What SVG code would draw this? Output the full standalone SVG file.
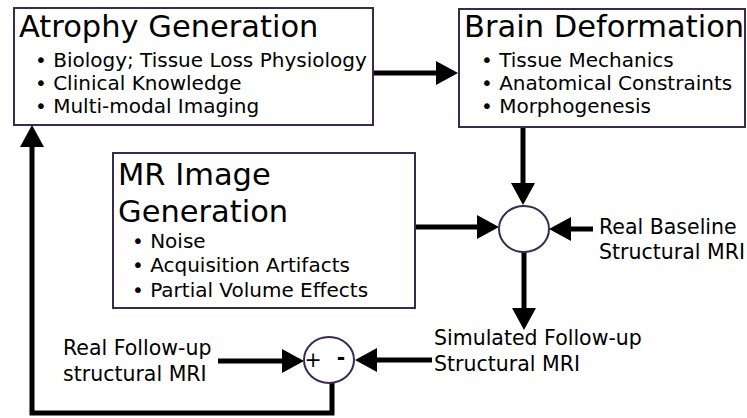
<svg xmlns="http://www.w3.org/2000/svg" width="747" height="418" viewBox="0 0 747 418">
<style>
.box{fill:#fff;stroke:#3b2a4c;stroke-width:2}
.t{font-family:"DejaVu Sans",sans-serif;fill:#000}
.h{font-size:30.5px}
.b{font-size:20px}
.l{font-size:20.5px}
.c{stroke:#000;stroke-width:5;fill:none;marker-end:url(#ah)}
</style>
<defs>
<marker id="ah" markerUnits="userSpaceOnUse" viewBox="0 0 22 24" refX="12" refY="12" markerWidth="22" markerHeight="24" orient="auto">
<path d="M0,0 L22,12 L0,24 z" fill="#000"/>
</marker>
</defs>
<g id="connectors">
<line class="c" x1="373" y1="73" x2="448" y2="73"/>
<line class="c" x1="523" y1="127" x2="523" y2="195"/>
<line class="c" x1="415" y1="227" x2="489" y2="227"/>
<line class="c" x1="593" y1="229" x2="559" y2="229"/>
<line class="c" x1="524" y1="252" x2="524" y2="320"/>
<line class="c" x1="218" y1="361" x2="294" y2="361"/>
<line class="c" x1="432" y1="360" x2="365" y2="360"/>
<path class="c" d="M332,383 L332,413 L32,413 L32,135"/>
</g>
<g id="atrophy">
<rect class="box" x="14" y="8" width="359" height="117"/>
<text class="t h" x="19" y="37">Atrophy Generation</text>
<text class="t b" x="35" y="67">• Biology; Tissue Loss Physiology</text>
<text class="t b" x="35" y="90">• Clinical Knowledge</text>
<text class="t b" x="35" y="113">• Multi-modal Imaging</text>
</g>
<g id="brain">
<rect class="box" x="459" y="9" width="286" height="118"/>
<text class="t h" x="464" y="37">Brain Deformation</text>
<text class="t b" x="481" y="67">• Tissue Mechanics</text>
<text class="t b" x="481" y="90">• Anatomical Constraints</text>
<text class="t b" x="481" y="113">• Morphogenesis</text>
</g>
<g id="mr">
<rect class="box" x="113" y="153" width="302" height="155"/>
<text class="t h" x="118" y="185">MR Image</text>
<text class="t h" x="118" y="222">Generation</text>
<text class="t b" x="132" y="248">• Noise</text>
<text class="t b" x="132" y="272">• Acquisition Artifacts</text>
<text class="t b" x="132" y="297">• Partial Volume Effects</text>
</g>
<g id="sum">
<ellipse class="box" cx="524" cy="229" rx="25" ry="23"/>
</g>
<g id="diff">
<ellipse class="box" cx="329" cy="360" rx="25" ry="23"/>
<text class="t l" x="313" y="367" text-anchor="middle">+</text>
<text class="t l" x="341" y="365" text-anchor="middle" font-weight="bold">-</text>
</g>
<g id="baseline">
<text class="t l" x="599" y="234">Real Baseline</text>
<text class="t l" x="599" y="259">Structural MRI</text>
</g>
<g id="simulated">
<text class="t l" x="434" y="345">Simulated Follow-up</text>
<text class="t l" x="434" y="371">Structural MRI</text>
</g>
<g id="followup">
<text class="t l" x="63" y="355">Real Follow-up</text>
<text class="t l" x="63" y="381">structural MRI</text>
</g>
</svg>
